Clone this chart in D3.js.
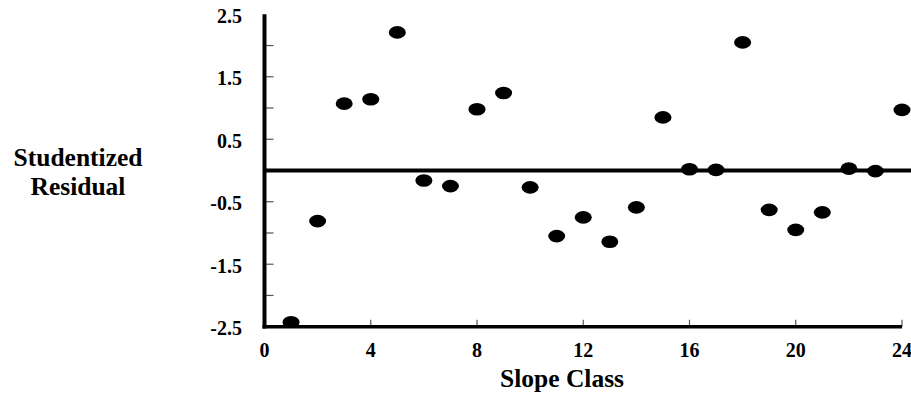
<!DOCTYPE html>
<html>
<head>
<meta charset="utf-8">
<script src="https://cdn.jsdelivr.net/npm/d3@7"></script>
<style>
  body { margin: 0; background: #fff; }
</style>
</head>
<body>
<div id="chart"></div>
<script>
// Data
const slopeClass = [1, 2, 3, 4, 5, 6, 7, 8, 9, 10, 11, 12, 13, 14, 15, 16, 17, 18, 19, 20, 21, 22, 23, 24];
const residuals = [-2.43, -0.81, 1.07, 1.14, 2.21, -0.16, -0.25, 0.98, 1.24, -0.27, -1.05, -0.75, -1.14, -0.59, 0.85, 0.02, 0.01, 2.05, -0.63, -0.95, -0.67, 0.03, -0.01, 0.97];
const xTicks = [0, 4, 8, 12, 16, 20, 24];
const yLabels = [2.5, 1.5, 0.5, -0.5, -1.5, -2.5];
const yTicks = [2, 1.5, 1, 0.5, -0.5, -1, -1.5, -2];

const width = 911, height = 400;

const svg = d3.select("#chart").append("svg")
  .attr("width", width)
  .attr("height", height);

// Scales
const x = d3.scaleLinear().domain([0, 24]).range([264.5, 902]);
const y = d3.scaleLinear().domain([-2.5, 2.5]).range([326.7, 14.3]);

// clip points to the plot area
svg.append("clipPath").attr("id", "plot")
  .append("rect")
  .attr("x", x(0)).attr("y", 0)
  .attr("width", width - x(0)).attr("height", y(-2.5));

// y ticks (inward) and labels
svg.append("g")
  .selectAll("line")
  .data(yTicks)
  .enter().append("line")
  .attr("x1", x(0)).attr("x2", x(0) + 9)
  .attr("y1", d => y(d)).attr("y2", d => y(d))
  .attr("stroke", "#555").attr("stroke-width", 1.2);

svg.append("g")
  .selectAll("text")
  .data(yLabels)
  .enter().append("text")
  .attr("x", 242)
  .attr("y", d => y(d) + 8.5)
  .attr("text-anchor", "end")
  .style("font", "bold 20px 'Liberation Serif'")
  .text(d => d.toFixed(1));

// x ticks (inward) and labels
svg.append("g")
  .selectAll("line")
  .data(xTicks.filter(d => d > 0))
  .enter().append("line")
  .attr("x1", d => x(d)).attr("x2", d => x(d))
  .attr("y1", y(-2.5)).attr("y2", y(-2.5) - 7)
  .attr("stroke", "#555").attr("stroke-width", 1.2);

svg.append("g")
  .selectAll("text")
  .data(xTicks)
  .enter().append("text")
  .attr("x", d => x(d))
  .attr("y", 357)
  .attr("text-anchor", "middle")
  .style("font", "bold 20px 'Liberation Serif'")
  .text(d => d);

// axes
svg.append("line")
  .attr("x1", x(0)).attr("x2", x(0))
  .attr("y1", y(2.5)).attr("y2", y(-2.5) + 1.8)
  .attr("stroke", "#000").attr("stroke-width", 4);

svg.append("line")
  .attr("x1", x(0) - 2).attr("x2", x(24))
  .attr("y1", y(-2.5)).attr("y2", y(-2.5))
  .attr("stroke", "#000").attr("stroke-width", 3.5);

// zero reference line
svg.append("line")
  .attr("x1", x(0)).attr("x2", width)
  .attr("y1", y(0)).attr("y2", y(0))
  .attr("stroke", "#000").attr("stroke-width", 4);

// points
svg.append("g")
  .attr("clip-path", "url(#plot)")
  .selectAll("ellipse")
  .data(slopeClass)
  .enter().append("ellipse")
  .attr("cx", d => x(d))
  .attr("cy", (d, i) => y(residuals[i]))
  .attr("rx", 8.5)
  .attr("ry", 6.3)
  .attr("fill", "#000");

// axis titles
svg.append("text")
  .attr("x", 562)
  .attr("y", 387)
  .attr("text-anchor", "middle")
  .style("font", "bold 25.5px 'Liberation Serif'")
  .text("Slope Class");

svg.append("text")
  .attr("x", 78).attr("y", 166)
  .attr("text-anchor", "middle")
  .style("font", "bold 25.5px 'Liberation Serif'")
  .text("Studentized");

svg.append("text")
  .attr("x", 78).attr("y", 195)
  .attr("text-anchor", "middle")
  .style("font", "bold 25.5px 'Liberation Serif'")
  .text("Residual");
</script>
</body>
</html>
